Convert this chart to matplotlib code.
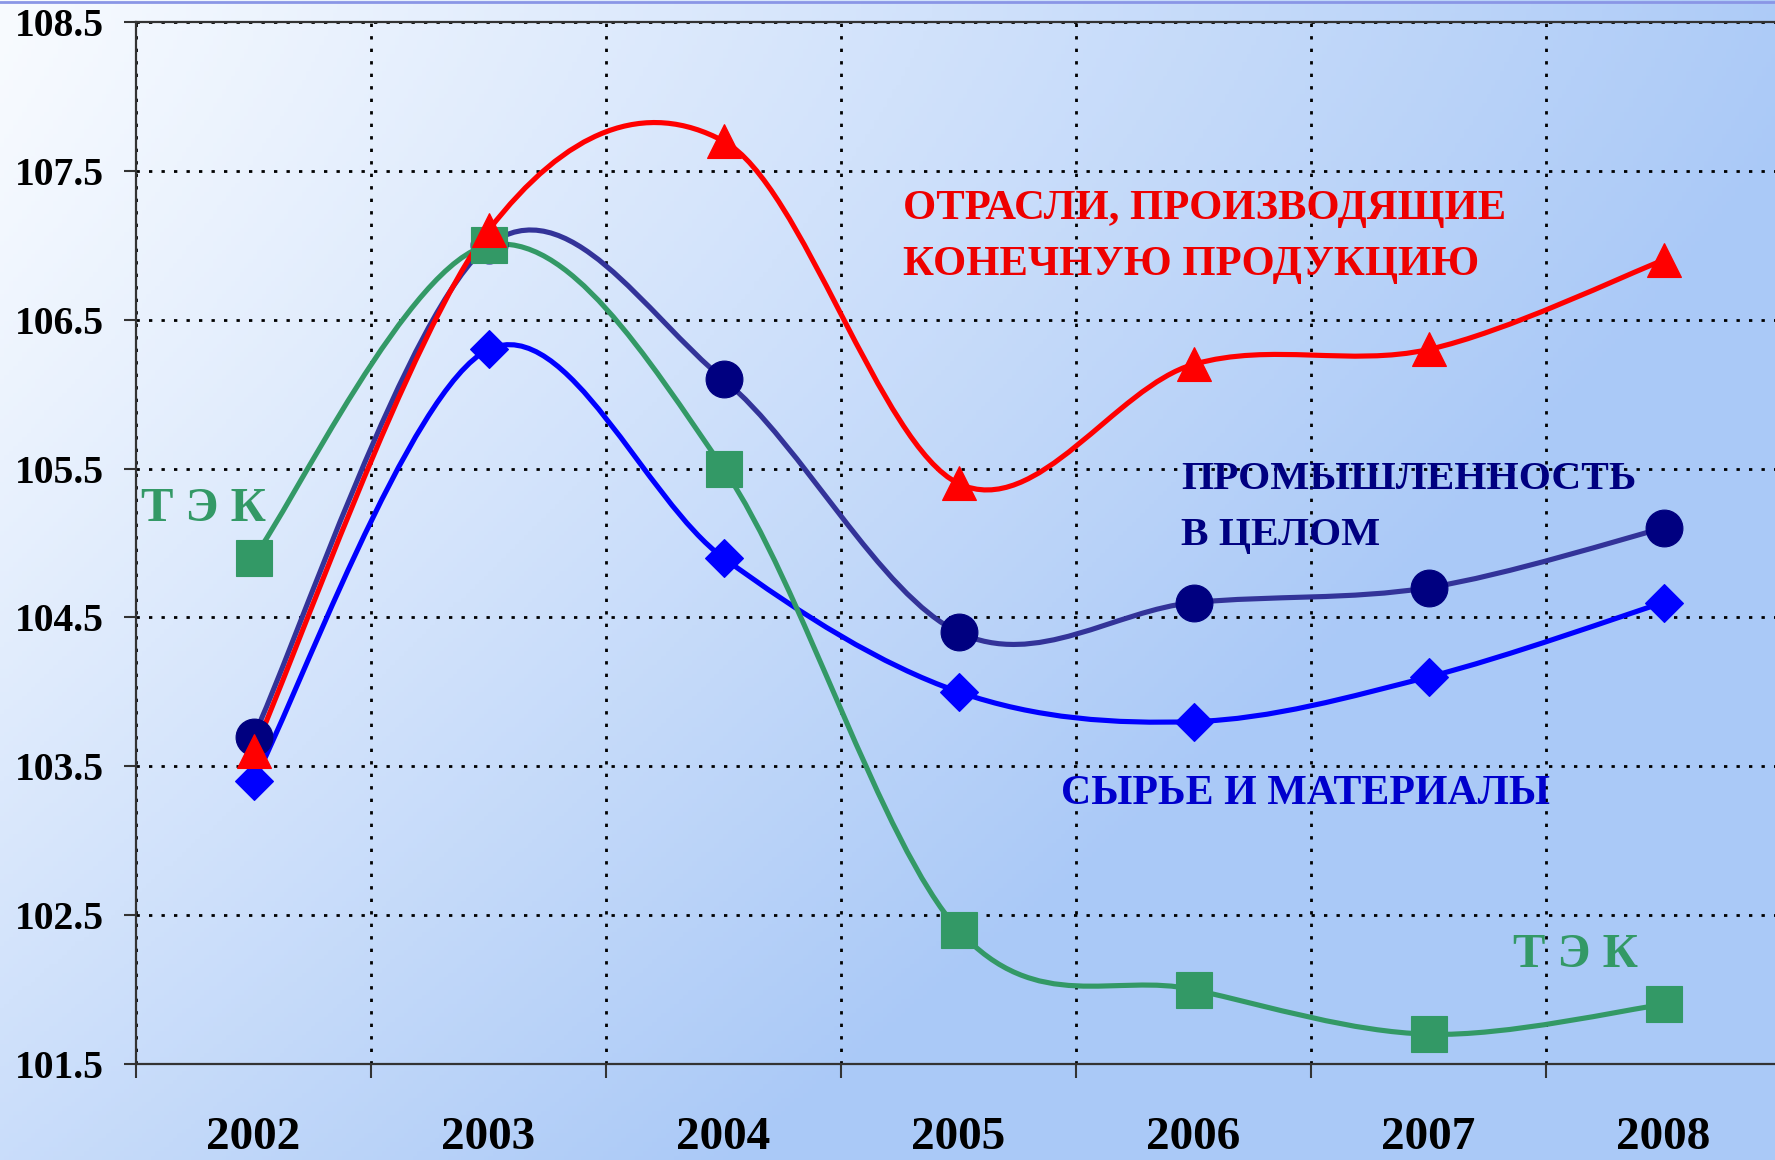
import numpy as np
import matplotlib
matplotlib.use("Agg")
import matplotlib.pyplot as plt
from matplotlib.path import Path
from matplotlib.patches import PathPatch
from matplotlib.lines import Line2D

# ---------------- data ----------------
years = ["2002", "2003", "2004", "2005", "2006", "2007", "2008"]
final_products = [103.6, 107.1, 107.7, 105.4, 106.2, 106.3, 106.9]   # red triangles
industry_total = [103.7, 107.0, 106.1, 104.4, 104.6, 104.7, 105.1]   # navy circles
raw_materials = [103.4, 106.3, 104.9, 104.0, 103.8, 104.1, 104.6]    # blue diamonds
fuel_energy = [104.9, 107.0, 105.5, 102.4, 102.0, 101.7, 101.9]      # green squares
y_ticks = [101.5, 102.5, 103.5, 104.5, 105.5, 106.5, 107.5, 108.5]

W, H = 1775, 1160
DPI = 100
fig = plt.figure(figsize=(W / DPI, H / DPI), dpi=DPI)

# ---------------- background gradient ----------------
bg = fig.add_axes([0, 0, 1, 1], zorder=-10)
gx = np.linspace(0, 1, 400)
gy = np.linspace(0, 1, 260)
U, V = np.meshgrid(gx, gy)
t = np.clip(U * 0.95 + 0.6 * V ** 1.3, 0, 1)
c0 = np.array([248, 251, 255]) / 255.0
c1 = np.array([170, 201, 247]) / 255.0
img = c0[None, None, :] * (1 - t[..., None]) + c1[None, None, :] * t[..., None]
bg.imshow(img, extent=[0, 1, 0, 1], aspect="auto", origin="upper")
bg.set_axis_off()
fig.add_artist(Line2D([0, 1], [1 - 1.5 / H, 1 - 1.5 / H], transform=fig.transFigure,
                      color="#8a96e6", lw=2))

# ---------------- main axes ----------------
left_px, right_px, top_px, bot_px = 136, 1781, 22, 1064
ax = fig.add_axes([left_px / W, 1 - bot_px / H, (right_px - left_px) / W, (bot_px - top_px) / H])
ax.patch.set_alpha(0)
ax.set_xlim(0, 7)
ax.set_ylim(101.5, 108.5)

xs = np.arange(len(years)) + 0.5

serif = "Liberation Serif"
ax.set_xticks(np.arange(0, 8))
ax.set_xticklabels([])
ax.set_xticks(xs, minor=True)
ax.set_xticklabels(years, minor=True, fontfamily=serif, fontweight="bold", fontsize=34)
ax.tick_params(axis="x", which="major", length=10, width=1.5, color="#333333", direction="out")
ax.tick_params(axis="x", which="minor", length=0, pad=38)
ax.set_yticks(y_ticks)
ax.set_yticklabels([f"{v:.1f}" for v in y_ticks], fontfamily=serif, fontweight="bold", fontsize=28.5)
ax.tick_params(axis="y", length=9, width=1.5, color="#333333", direction="out", pad=14)

for side in ["left", "bottom", "top"]:
    ax.spines[side].set_color("#333333")
    ax.spines[side].set_linewidth(1.6)
ax.spines["right"].set_visible(False)

ax.grid(True, which="major", color="black", linestyle=(0, (1.2, 3.3)), linewidth=2)
ax.set_axisbelow(True)


def smooth_path(x, y):
    x = np.asarray(x, float)
    y = np.asarray(y, float)
    n = len(x)
    px = np.concatenate([[x[0]], x, [x[-1]]])
    py = np.concatenate([[y[0]], y, [y[-1]]])
    verts = [(x[0], y[0])]
    codes = [Path.MOVETO]
    for i in range(n - 1):
        j = i + 1
        c1 = (px[j] + (px[j + 1] - px[j - 1]) / 6, py[j] + (py[j + 1] - py[j - 1]) / 6)
        c2 = (px[j + 1] - (px[j + 2] - px[j]) / 6, py[j + 1] - (py[j + 2] - py[j]) / 6)
        verts += [c1, c2, (x[i + 1], y[i + 1])]
        codes += [Path.CURVE4] * 3
    return Path(verts, codes)


series = [
    (raw_materials, "#0000ff", "#0000ff", "D", 19, 1),
    (industry_total, "#333399", "#000080", "o", 26.5, 2),
    (fuel_energy, "#339966", "#339966", "s", 25.5, 3),
    (final_products, "#ff0000", "#ff0000", "^", 24, 4),
]
for vals, lc, mc, mk, ms, z in series:
    patch = PathPatch(smooth_path(xs, vals), fill=False, edgecolor=lc, lw=3.7,
                      transform=ax.transData, zorder=z + 2, capstyle="round", joinstyle="round")
    ax.add_patch(patch)
    ax.plot(xs, vals, linestyle="none", marker=mk, markersize=ms, color=mc,
            markeredgecolor=mc, markeredgewidth=0.8, zorder=z + 10, clip_on=False)


def ftext(x, y, s, color, size):
    fig.text(x / W, 1 - y / H, s, color=color, fontsize=size, fontfamily=serif,
             fontweight="bold", ha="left", va="top")


ftext(903, 190, "ОТРАСЛИ, ПРОИЗВОДЯЩИЕ", "#ee0000", 30.7)
ftext(903, 246, "КОНЕЧНУЮ ПРОДУКЦИЮ", "#ee0000", 30.7)
ftext(1181, 461, "ПРОМЫШЛЕННОСТЬ", "#000080", 29.8)
ftext(1181, 517, "В ЦЕЛОМ", "#000080", 29.8)
ftext(1061, 775, "СЫРЬЕ И МАТЕРИАЛЫ", "#0000cc", 30.2)
ftext(141, 487, "Т Э К", "#339966", 35)
ftext(1513, 933, "Т Э К", "#339966", 35)

fig.savefig("out.png", dpi=DPI)
